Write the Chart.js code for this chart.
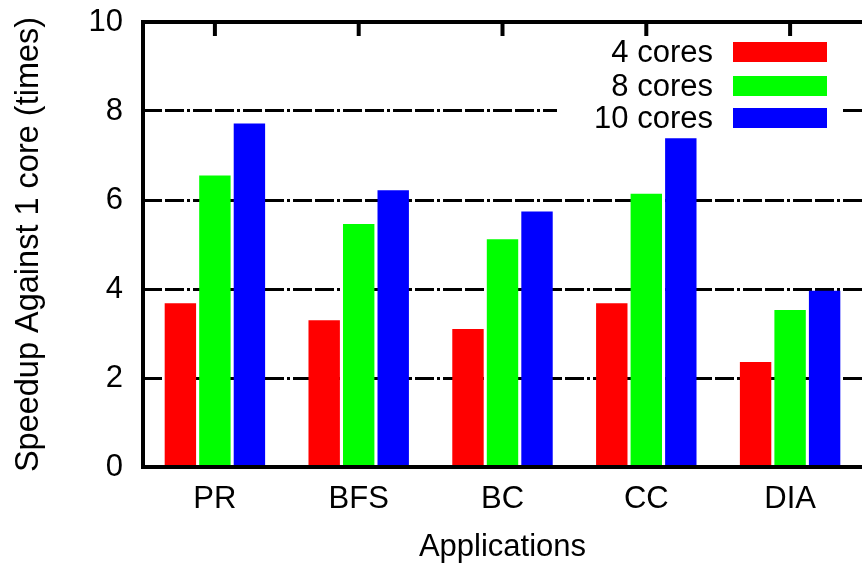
<!DOCTYPE html>
<html>
<head>
<meta charset="utf-8">
<script src="https://cdn.jsdelivr.net/npm/chart.js@4"></script>
<style>
    html, body { margin: 0; padding: 0; background: #fff; }
    #wrap { width: 862px; height: 563px; }
</style>
</head>
<body>
<div id="wrap"><canvas id="chart-speedup" width="862" height="563"></canvas></div>
<script>
// data
const apps = ['PR', 'BFS', 'BC', 'CC', 'DIA'];
const cores4 = [3.68, 3.30, 3.10, 3.68, 2.36];
const cores8 = [6.55, 5.46, 5.12, 6.14, 3.53];
const cores10 = [7.72, 6.22, 5.74, 7.39, 3.96];
const seriesLabels = ['4 cores', '8 cores', '10 cores'];
const yTicks = [0, 2, 4, 6, 8, 10];

const red = '#FF0000', green = '#00FF00', blue = '#0000FF';
const fontFam = '"Liberation Sans", Arial, sans-serif';

// axes frame (left, bottom, top) + mirrored ticks on top
const framePlugin = {
    id: 'frame',
    afterDatasetsDraw(chart) {
        const {ctx, chartArea: a} = chart;
        const x = chart.scales.x;
        ctx.save();
        ctx.strokeStyle = '#000';
        ctx.lineWidth = 4;
        ctx.beginPath();
        ctx.moveTo(a.right + 2, a.top);
        ctx.lineTo(a.left, a.top);
        ctx.lineTo(a.left, a.bottom);
        ctx.lineTo(a.right + 2, a.bottom);
        ctx.stroke();
        apps.forEach((_, i) => {
            const px = x.getPixelForValue(i);
            ctx.beginPath();
            ctx.moveTo(px, a.top);
            ctx.lineTo(px, a.top + 14);
            ctx.stroke();
        });
        ctx.restore();
    }
};

// key box inside the plot, opaque
const keyPlugin = {
    id: 'key',
    afterDatasetsDraw(chart) {
        const {ctx} = chart;
        ctx.save();
        ctx.fillStyle = '#fff';
        ctx.fillRect(557, 37, 286, 97);
        ctx.font = '31px ' + fontFam;
        ctx.textAlign = 'right';
        ctx.textBaseline = 'middle';
        const rows = [52, 86, 118];
        chart.data.datasets.forEach((ds, i) => {
            ctx.fillStyle = '#000';
            ctx.fillText(ds.label, 713, rows[i] + 1);
            ctx.fillStyle = ds.backgroundColor;
            ctx.fillRect(733, rows[i] - 10, 94, 20);
        });
        ctx.restore();
    }
};

new Chart(document.getElementById('chart-speedup'), {
    type: 'bar',
    data: {
        labels: apps,
        datasets: [
            {label: seriesLabels[0], data: cores4, backgroundColor: red},
            {label: seriesLabels[1], data: cores8, backgroundColor: green},
            {label: seriesLabels[2], data: cores10, backgroundColor: blue}
        ]
    },
    options: {
        responsive: false,
        animation: false,
        layout: {padding: {top: 22, right: 0, left: 0, bottom: 0}},
        datasets: {bar: {categoryPercentage: 0.72, barPercentage: 0.91, borderWidth: 0}},
        plugins: {legend: {display: false}, tooltip: {enabled: false}},
        scales: {
            x: {
                grid: {display: false, drawTicks: false},
                border: {display: false},
                ticks: {color: '#000', font: {family: fontFam, size: 31}, padding: 14},
                title: {display: true, text: 'Applications', color: '#000', font: {family: fontFam, size: 31}, padding: {top: 0, bottom: -3}},
                afterFit(s) { s.height = 96; s.paddingLeft = 0; s.paddingRight = 0; }
            },
            y: {
                min: 0, max: 10,
                afterBuildTicks(s) { s.ticks = yTicks.map(v => ({value: v})); },
                grid: {
                    drawTicks: false,
                    lineWidth: 3,
                    color: c => (c.tick && (c.tick.value === 0 || c.tick.value === 10)) ? 'rgba(0,0,0,0)' : '#000'
                },
                border: {display: false, dash: [19, 3, 19, 3, 3, 3]},
                ticks: {color: '#000', font: {family: fontFam, size: 31}, padding: 20},
                title: {display: true, text: 'Speedup Against 1 core (times)', color: '#000', font: {family: fontFam, size: 32.5}, padding: {top: 10, bottom: 0}},
                afterFit(s) { s.width = 143; s.paddingTop = 0; s.paddingBottom = 0; }
            }
        }
    },
    plugins: [framePlugin, keyPlugin]
});
</script>
</body>
</html>
